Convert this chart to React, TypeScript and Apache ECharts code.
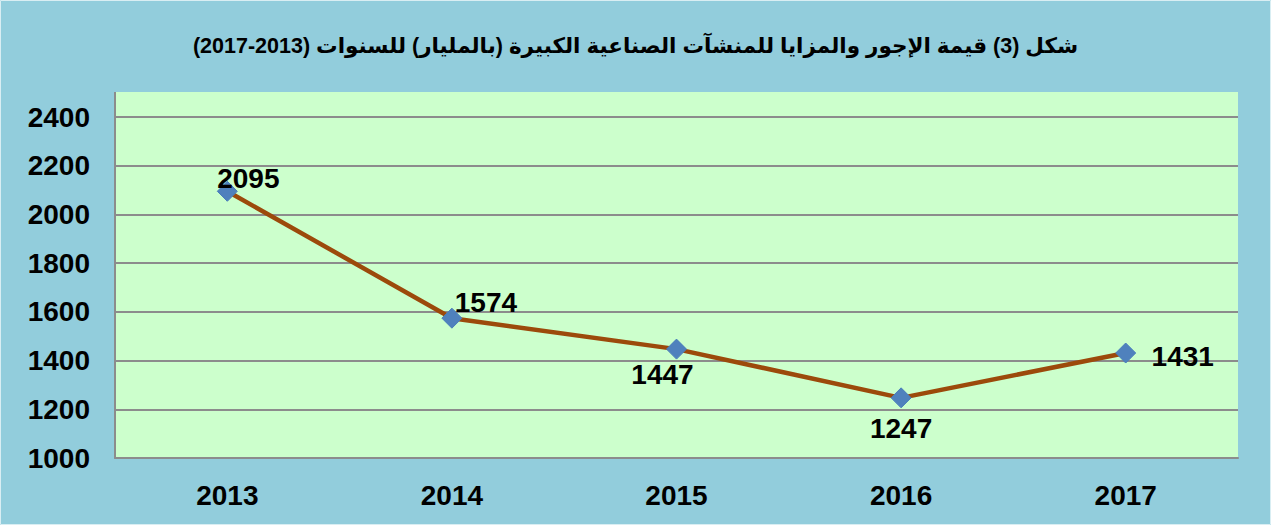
import React, { useEffect, useRef } from "react";
import * as echarts from "echarts";

const titleText = "شكل (3) قيمة الإجور والمزايا للمنشآت الصناعية الكبيرة (بالمليار) للسنوات (2013-2017)";
const years = ["2013", "2014", "2015", "2016", "2017"];
const values = [2095, 1574, 1447, 1247, 1431];
const yMin = 1000;
const yMax = 2400;
const yInterval = 200;

// label placement per point (style only)
const labelPlacement: { position: string; offset: [number, number] }[] = [
  { position: "inside", offset: [21, -13] },
  { position: "inside", offset: [34, -16] },
  { position: "inside", offset: [-14, 25] },
  { position: "inside", offset: [0, 31] },
  { position: "inside", offset: [57, 3] },
];

const FONT = "Arial, 'Liberation Sans', 'DejaVu Sans', sans-serif";
const PLOT_BG = "#CCFFCC";
const AXIS_GREY = "#8C8C8C";
const LABEL_SIZE = 28;

export default function App() {
  const ref = useRef<HTMLDivElement>(null);
  useEffect(() => {
    if (!ref.current) return;
    const chart = echarts.init(ref.current, null, { renderer: "svg" });
    chart.setOption({
      animation: false,
      backgroundColor: "#92CDDC",
      title: {
        text: titleText,
        left: "center",
        top: 30,
        textStyle: { fontFamily: FONT, fontWeight: "bold", fontSize: 21.5, color: "#000" },
      },
      graphic: [
        {
          type: "rect",
          shape: { x: 0.5, y: 0.5, width: 1270, height: 524 },
          style: { fill: "none", stroke: "#D9EEF3", lineWidth: 1 },
          silent: true,
        },
        {
          type: "rect",
          shape: { x: 115, y: 92, width: 1123, height: 25 },
          style: { fill: PLOT_BG },
          silent: true,
          z: -1,
        },
        {
          type: "line",
          shape: { x1: 115, y1: 92, x2: 115, y2: 118 },
          style: { stroke: AXIS_GREY, lineWidth: 2 },
          silent: true,
        },
      ],
      grid: {
        left: 115,
        right: 33,
        top: 117,
        bottom: 67,
        show: true,
        backgroundColor: PLOT_BG,
        borderWidth: 0,
      },
      xAxis: {
        type: "category",
        data: years,
        boundaryGap: true,
        axisLine: { show: true, lineStyle: { color: AXIS_GREY, width: 2 } },
        axisTick: { show: false },
        axisLabel: {
          margin: 23,
          fontFamily: FONT,
          fontWeight: "bold",
          fontSize: LABEL_SIZE,
          color: "#000",
        },
      },
      yAxis: {
        type: "value",
        min: yMin,
        max: yMax,
        interval: yInterval,
        axisLine: { show: true, lineStyle: { color: AXIS_GREY, width: 2 } },
        axisTick: { show: false },
        axisLabel: {
          margin: 25,
          formatter: (v: number) => String(v),
          fontFamily: FONT,
          fontWeight: "bold",
          fontSize: LABEL_SIZE,
          color: "#000",
        },
        splitLine: {
          show: true,
          lineStyle: { color: AXIS_GREY, width: 2 },
        },
      },
      series: [
        {
          type: "line",
          data: values.map((v, i) => ({
            value: v,
            label: {
              show: true,
              position: labelPlacement[i].position,
              offset: labelPlacement[i].offset,
            },
          })),
          lineStyle: { color: "#9C4A0B", width: 4.5 },
          symbol: "diamond",
          symbolSize: 20,
          itemStyle: { color: "#4F81BD", borderColor: "#4A7EBB", borderWidth: 1 },
          label: {
            show: true,
            fontFamily: FONT,
            fontWeight: "bold",
            fontSize: LABEL_SIZE,
            color: "#000",
          },
          z: 3,
        },
      ],
    });
    return () => chart.dispose();
  }, []);
  return (
    <div
      ref={ref}
      style={{ position: "fixed", left: 0, top: 0, width: 1271, height: 525 }}
    />
  );
}
